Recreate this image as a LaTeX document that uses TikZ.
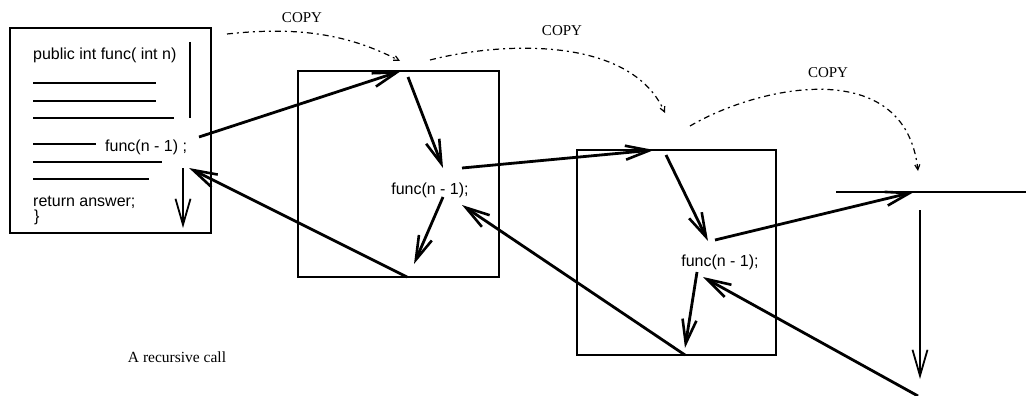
\documentclass[tikz,border=0pt]{standalone}
\usepackage{fontspec}
\setmainfont{Liberation Serif}
\newfontfamily\codefont{Liberation Sans}
\usetikzlibrary{arrows.meta}

\tikzset{
  frame/.style={draw, line width=1.6pt, inner sep=0pt},
  call/.style={line width=2.8pt, -{Straight Barb[length=24pt,width=14pt,line width=2.6pt]}},
  plain/.style={line width=1.5pt, -{Straight Barb[length=26pt,width=15pt,line width=1.8pt]}},
  copyarrow/.style={line width=1.2pt, dash pattern=on 6pt off 4pt on 2pt off 4pt,
                    -{Straight Barb[length=5pt,width=5pt]}},
  codeline/.style={line width=2.2pt},
  code/.style={font=\codefont\fontsize{16}{18}\selectfont, inner sep=0pt},
  copytext/.style={font=\fontsize{15}{17}\selectfont, inner sep=0pt},
}

\begin{document}
\begin{tikzpicture}[x=1pt,y=-1pt]
\useasboundingbox (0,0) rectangle (1026,396);

% ---- the three activation frames ----
\node[frame, minimum width=201pt, minimum height=205pt] (box1) at (110.5,130.5) {};
\node[frame, minimum width=201pt, minimum height=206pt] (box2) at (398.5,174) {};
\node[frame, minimum width=199pt, minimum height=205pt] (box3) at (676.5,252.5) {};

% ---- source text in the first frame ----
\node[code, anchor=west] (head) at (33,55) {public int func( int n)};
\node[code, anchor=west] (call1) at (105,147) {func(n - 1) ;};
\node[code, anchor=west] (ret) at (33,202) {return answer;};
\node[code, anchor=west] (close) at (34,217) {\}};

\draw[codeline] (33,83) -- (156,83);
\draw[codeline] (33,101) -- (156,101);
\draw[codeline] (33,118) -- (174,118);
\draw[codeline] (33,144) -- (96,144);
\draw[codeline] (33,162) -- (162,162);
\draw[codeline] (33,179) -- (149,179);
\draw[codeline] (190,42) -- (190,118);

\coordinate (d1s) at (183,168);
\coordinate (d1e) at (183,228);
\draw[plain] (d1s) -- (d1e);

% ---- calls in the copied frames ----
\node[code] (call2) at (430,190) {func(n - 1);};
\node[code] (call3) at (720,262) {func(n - 1);};

% end points of the call / return arrows
\coordinate (c1out) at (199,137);
\coordinate (b2top) at (401,71);
\coordinate (b2in)  at (408,77);
\coordinate (c2a)   at (443,168);
\coordinate (c2b)   at (443,197);
\coordinate (c2c)   at (414,264);
\coordinate (b2bot) at (407,277);
\coordinate (c1in)  at (189,168);
\coordinate (c2out) at (462,168);
\coordinate (b3top) at (654,150);
\coordinate (b3in)  at (666,155);
\coordinate (c3a)   at (708,241);
\coordinate (c3b)   at (697,272);
\coordinate (c3c)   at (685,348);
\coordinate (b3bot) at (685,355);
\coordinate (c2in)  at (462,205);
\coordinate (c3out) at (715,240);
\coordinate (baseL) at (836,192);
\coordinate (baseR) at (1026,192);
\coordinate (base)  at (914,192);
\coordinate (downs) at (920,210);
\coordinate (downe) at (920,379);
\coordinate (rets)  at (918,396);
\coordinate (c3in)  at (703,277);

\draw[call] (c1out) -- (b2top);
\draw[call] (b2in) -- (c2a);
\draw[call] (c2b) -- (c2c);
\draw[call] (b2bot) -- (c1in);
\draw[call] (c2out) -- (b3top);
\draw[call] (b3in) -- (c3a);
\draw[call] (c3b) -- (c3c);
\draw[call] (b3bot) -- (c2in);
\draw[call] (c3out) -- (base);
\draw[call] (rets) -- (c3in);

% ---- base case ----
\draw[line width=1.5pt] (baseL) -- (baseR);
\draw[plain] (downs) -- (downe);

% ---- copy arrows ----
\coordinate (cp1s) at (227,34);  \coordinate (cp1e) at (400,61);
\coordinate (cp2s) at (430,60);  \coordinate (cp2e) at (665,113);
\coordinate (cp3s) at (690,126); \coordinate (cp3e) at (918,171);
\draw[copyarrow] (cp1s) .. controls (300,26) and (350,35) .. (cp1e);
\draw[copyarrow] (cp2s) .. controls (500,42) and (630,35) .. (cp2e);
\draw[copyarrow] (cp3s) .. controls (760,85) and (905,55) .. (cp3e);
\node[copytext] (copy1) at (302,18) {COPY};
\node[copytext] (copy2) at (562,31) {COPY};
\node[copytext] (copy3) at (828,73) {COPY};

% ---- caption ----
\node[copytext, font=\fontsize{15.5}{17}\selectfont] (caption) at (177,357) {A recursive call};
\end{tikzpicture}
\end{document}
